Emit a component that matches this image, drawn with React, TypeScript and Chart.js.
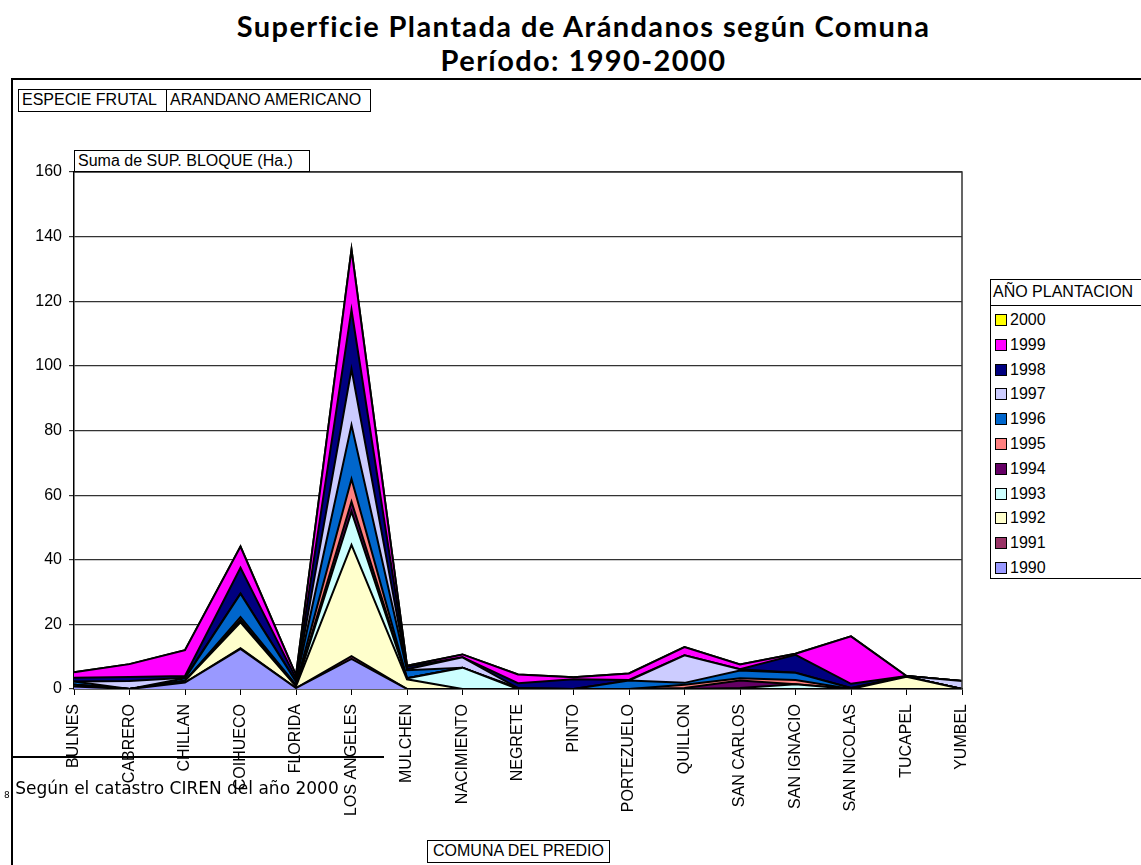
import React, { useEffect, useRef } from "react";
import { Chart, registerables } from "chart.js";
Chart.register(...registerables);

const categories = [
  "BULNES", "CABRERO", "CHILLAN", "COIHUECO", "FLORIDA", "LOS ANGELES", "MULCHEN",
  "NACIMIENTO", "NEGRETE", "PINTO", "PORTEZUELO", "QUILLON", "SAN CARLOS",
  "SAN IGNACIO", "SAN NICOLAS", "TUCAPEL", "YUMBEL",
];

// values (Ha.) per year, in category order
const y1990 = [0.8, 0, 2, 12.4, 0.3, 9.3, 0, 0, 0, 0, 0, 0, 0, 0, 0, 0, 0];
const y1991 = [0, 0, 0, 0.2, 0, 0.9, 0, 0, 0, 0, 0, 0, 0, 0, 0, 0, 0];
const y1992 = [0.5, 0, 0.5, 8, 0.5, 34.4, 3, 0, 0, 0, 0, 0, 0, 0, 0, 3.8, 0];
const y1993 = [0, 0, 0, 0.3, 0, 10.3, 0.3, 6.6, 0, 0, 0, 0, 0.3, 1.5, 0, 0, 0];
const y1994 = [0, 0, 0, 0.6, 0, 3.1, 0, 0, 0, 0, 0, 0.3, 2.3, 0, 0, 0, 0];
const y1995 = [0, 0, 0, 0.8, 0.5, 7, 0, 0, 0, 0, 0, 1, 0.7, 1.3, 0, 0, 0];
const y1996 = [1, 0, 0.8, 7.2, 1, 16.7, 2.5, 0, 0.3, 0, 2.6, 0.6, 2.4, 2.2, 0.3, 0, 0];
const y1997 = [0, 2.5, 0.2, 0, 0, 17.3, 0.3, 3.2, 0, 0, 0, 8.5, 0.4, 0, 0, 0.2, 2.5];
const y1998 = [1.2, 1.2, 0.5, 8, 1, 18.3, 0.8, 0, 1.5, 3, 0.2, 0, 0, 5.6, 1.3, 0, 0];
const y1999 = [1.7, 4, 8, 6.6, 1, 18.7, 0.3, 0.9, 2.7, 0.6, 2, 2.6, 1.5, 0.3, 14.7, 0, 0];
const y2000 = [0, 0, 0, 0, 0, 0, 0, 0, 0, 0, 0, 0, 0, 0, 0, 0, 0];

const seriesLabels = ["1990", "1991", "1992", "1993", "1994", "1995", "1996", "1997", "1998", "1999", "2000"];
const seriesData = [y1990, y1991, y1992, y1993, y1994, y1995, y1996, y1997, y1998, y1999, y2000];
const seriesColors = [
  "#9999FF", "#993366", "#FFFFCC", "#CCFFFF", "#660066", "#FF8080",
  "#0066CC", "#CCCCFF", "#000080", "#FF00FF", "#FFFF00",
];
const yTicks = [0, 20, 40, 60, 80, 100, 120, 140, 160];

const W = 1141;
const H = 865;
const PLOT_LEFT = 74;
const PLOT_RIGHT = 962;
const PLOT_TOP = 172;
const PLOT_BOTTOM = 689;

const ARIAL = "'Liberation Sans', Arial, sans-serif";

const plotBorder = {
  id: "plotBorder",
  afterDraw(chart: any) {
    const { ctx, chartArea } = chart;
    ctx.save();
    ctx.strokeStyle = "#333";
    ctx.lineWidth = 1.5;
    ctx.beginPath();
    ctx.moveTo(chartArea.left, chartArea.top);
    ctx.lineTo(chartArea.right, chartArea.top);
    ctx.lineTo(chartArea.right, chartArea.bottom);
    ctx.stroke();
    ctx.restore();
  },
};

function ChartCanvas() {
  const ref = useRef<HTMLCanvasElement | null>(null);
  useEffect(() => {
    if (!ref.current) return;
    const chart = new Chart(ref.current, {
      type: "line",
      data: {
        labels: categories,
        datasets: seriesData.map((d, i) => ({
          label: seriesLabels[i],
          data: d,
          backgroundColor: seriesColors[i],
          borderColor: "#000",
          borderWidth: 2,
          fill: i === 0 ? "origin" : "-1",
          pointRadius: 0,
          tension: 0,
        })),
      },
      options: {
        responsive: false,
        maintainAspectRatio: false,
        animation: false,
        layout: { padding: { left: 0, top: PLOT_TOP, right: W - PLOT_RIGHT, bottom: 0 } },
        plugins: { legend: { display: false }, tooltip: { enabled: false }, title: { display: false } },
        scales: {
          x: {
            offset: false,
            grid: { display: true, drawOnChartArea: false, drawTicks: true, tickLength: 6, color: "#000" },
            border: { color: "#000", width: 1.5 },
            ticks: {
              autoSkip: false,
              maxRotation: 90,
              minRotation: 90,
              color: "#000",
              padding: 9,
              font: { family: ARIAL, size: 16 },
            },
            afterFit: (s: any) => {
              s.height = H - PLOT_BOTTOM;
            },
          },
          y: {
            stacked: true,
            min: 0,
            max: 160,
            afterBuildTicks: (s: any) => {
              s.ticks = yTicks.map((v) => ({ value: v }));
            },
            grid: { color: "#333", lineWidth: 1.2, tickLength: 5, drawTicks: true },
            border: { color: "#000", width: 1.5 },
            ticks: { color: "#000", padding: 7, font: { family: ARIAL, size: 16 } },
            afterFit: (s: any) => {
              s.width = PLOT_LEFT;
            },
          },
        },
      },
      plugins: [plotBorder],
    });
    return () => chart.destroy();
  }, []);
  return (
    <canvas
      ref={ref}
      width={W}
      height={H}
      style={{ position: "absolute", left: 0, top: 0, width: W, height: H }}
    />
  );
}

const boxStyle: React.CSSProperties = {
  position: "absolute",
  border: "1px solid #000",
  background: "#fff",
  fontFamily: ARIAL,
  fontSize: 16,
  color: "#000",
  whiteSpace: "nowrap",
  boxSizing: "border-box",
  lineHeight: "20px",
  padding: "0 3px",
};

export default function App() {
  const legendOrder = seriesLabels.map((l, i) => ({ l, c: seriesColors[i] })).reverse();
  return (
    <div style={{ position: "absolute", left: 0, top: 0, width: W, height: H, overflow: "hidden", background: "#fff" }}>
      <div
        style={{
          position: "absolute", left: 0, top: 9, width: 1167, textAlign: "center",
          fontFamily: "Lato, 'Noto Sans', sans-serif", fontWeight: 700, fontSize: 29, letterSpacing: 1.4,
          lineHeight: "34px", color: "#000",
        }}
      >
        Superficie Plantada de Arándanos según Comuna
        <br />
        Período: 1990-2000
      </div>
      {/* outer frame */}
      <div style={{ position: "absolute", left: 11, top: 78, width: W, height: H, borderLeft: "2px solid #000", borderTop: "2px solid #000" }} />
      <ChartCanvas />
      <div style={{ ...boxStyle, left: 18, top: 89, width: 149, height: 23 }}>ESPECIE FRUTAL</div>
      <div style={{ ...boxStyle, left: 166, top: 89, width: 205, height: 23 }}>ARANDANO AMERICANO</div>
      <div style={{ ...boxStyle, left: 74, top: 150, width: 236, height: 22 }}>Suma de SUP. BLOQUE (Ha.)</div>
      {/* legend */}
      <div style={{ position: "absolute", left: 990, top: 279, width: 170, height: 300, border: "1px solid #000", background: "#fff", boxSizing: "border-box" }}>
        <div style={{ height: 25, borderBottom: "1px solid #000", fontFamily: ARIAL, fontSize: 16, lineHeight: "24px", paddingLeft: 2, whiteSpace: "nowrap" }}>
          AÑO PLANTACION
        </div>
        {legendOrder.map((it, k) => (
          <div key={it.l} style={{ position: "absolute", left: 4, top: 32 + k * 24.8, height: 16, display: "flex", alignItems: "center" }}>
            <span style={{ display: "inline-block", width: 10, height: 10, border: "1.5px solid #000", background: it.c }} />
            <span style={{ marginLeft: 3, fontFamily: ARIAL, fontSize: 16, lineHeight: "16px" }}>{it.l}</span>
          </div>
        ))}
      </div>
      {/* footnote */}
      <div style={{ position: "absolute", left: 12, top: 756, width: 372, height: 0, borderTop: "2px solid #000" }} />
      <div style={{ position: "absolute", left: 4, top: 778, fontFamily: "'DejaVu Sans', sans-serif", fontSize: 17, lineHeight: "20px", whiteSpace: "nowrap", color: "#000" }}>
        <span style={{ fontSize: 9, verticalAlign: "sub" }}>8</span> Según el catastro CIREN del año 2000
      </div>
      <div style={{ ...boxStyle, left: 427, top: 840, width: 183, height: 23, textAlign: "center", padding: 0 }}>COMUNA DEL PREDIO</div>
    </div>
  );
}
